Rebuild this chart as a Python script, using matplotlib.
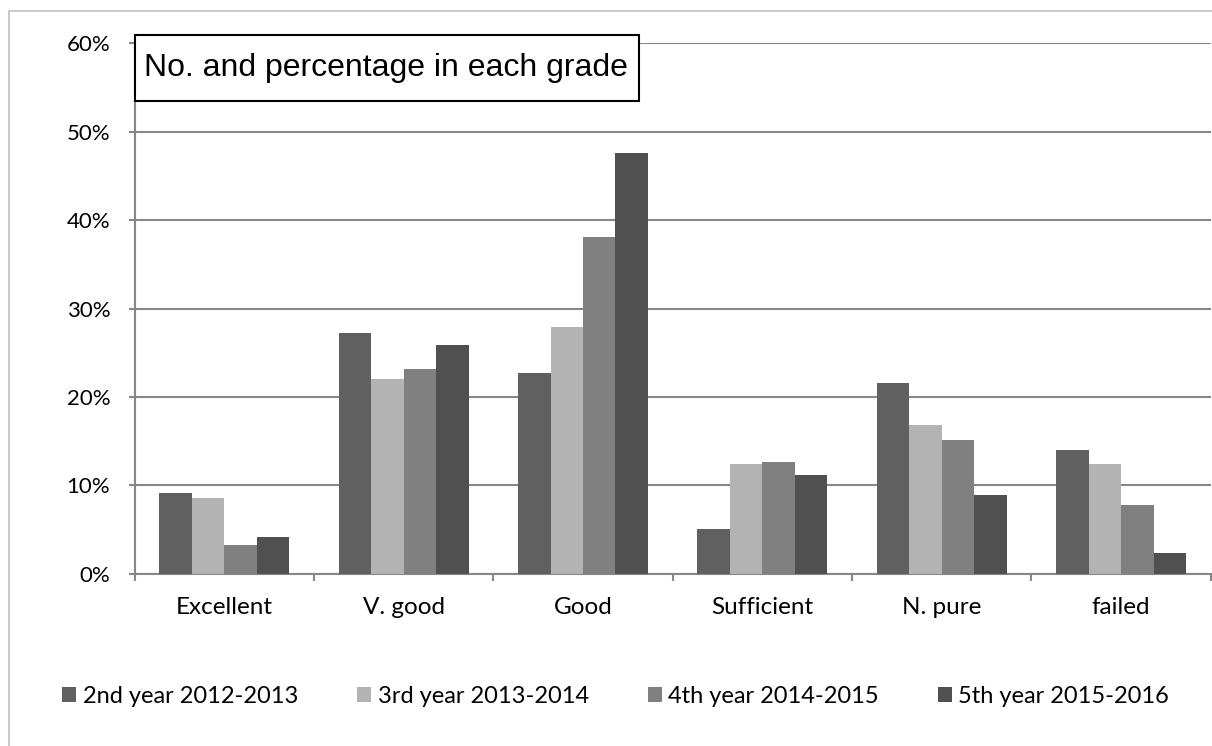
import matplotlib.pyplot as plt
import matplotlib.patches as mpatches
import numpy as np

categories = ["Excellent", "V. good", "Good", "Sufficient", "N. pure", "failed"]
series_names = ["2nd year 2012-2013", "3rd year 2013-2014",
                "4th year 2014-2015", "5th year 2015-2016"]
y2012 = [9.1, 27.2, 22.7, 5.0, 21.6, 14.0]
y2013 = [8.5, 22.0, 27.9, 12.4, 16.8, 12.4]
y2014 = [3.2, 23.2, 38.1, 12.6, 15.1, 7.8]
y2015 = [4.1, 25.9, 47.6, 11.2, 8.9, 2.3]
colors = ["#606060", "#b3b3b3", "#808080", "#505050"]

plt.rcParams['font.family'] = ['Lato', 'DejaVu Sans']

fig = plt.figure(figsize=(12.12, 7.46), dpi=100)
ax = fig.add_axes([0.111, 0.2312, 0.888, 0.7105])

x = np.arange(len(categories))
w = 0.181
for i, (vals, name) in enumerate(zip([y2012, y2013, y2014, y2015], series_names)):
    ax.bar(x + (i - 1.5) * w, vals, width=w, color=colors[i], label=name, zorder=3)

ax.set_xlim(-0.5, len(categories) - 0.5)
ax.set_ylim(0, 60)
ax.set_yticks(range(0, 61, 10))
ax.set_yticklabels([f"{v}%" for v in range(0, 61, 10)], fontsize=16)
ax.set_xticks(x)
ax.set_xticklabels(categories, fontsize=17.5)
ax.set_xticks(np.arange(-0.5, len(categories), 1), minor=True)
ax.tick_params(axis='x', which='major', length=0, pad=17)
ax.tick_params(axis='x', which='minor', length=5, width=1.5, color='#878787')
ax.tick_params(axis='y', length=4.5, width=1.5, color='#878787', pad=13)

ax.grid(axis='y', color='#878787', linewidth=1.5, zorder=0)
for s in ['top', 'right']:
    ax.spines[s].set_visible(False)
for s in ['left', 'bottom']:
    ax.spines[s].set_color('#878787')
    ax.spines[s].set_linewidth(1.5)

# title box
ax.add_patch(mpatches.Rectangle((0, 0.892), 0.469, 0.124, transform=ax.transAxes,
                                fc='white', ec='black', lw=1.5, zorder=5,
                                clip_on=False))
ax.text(0.234, 0.953, "No. and percentage in each grade", transform=ax.transAxes,
        fontsize=23, family=['Liberation Sans', 'DejaVu Sans'],
        ha='center', va='center', zorder=6)

leg = fig.legend(loc='center', bbox_to_anchor=(0.508, 0.066), ncol=4, frameon=False,
                 fontsize=17, handlelength=0.6, handleheight=0.6,
                 handletextpad=0.27, columnspacing=2.5)

# outer chart frame (top and left visible)
fig.add_artist(mpatches.Rectangle((9 / 1212, -0.5), 2, 1.5 - 11 / 746,
                                  transform=fig.transFigure, fill=False,
                                  ec='#c0c0c0', lw=1.2))

fig.savefig("out.png", dpi=100)
